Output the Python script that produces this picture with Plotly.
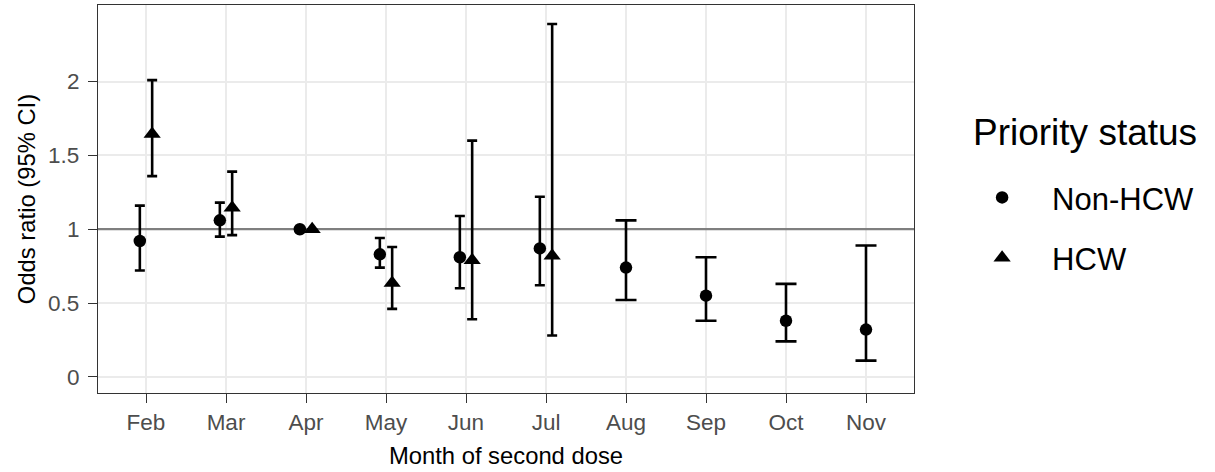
import plotly.graph_objects as go

# Month of second dose (reference month: Apr)
months = ["Feb", "Mar", "Apr", "May", "Jun", "Jul", "Aug", "Sep", "Oct", "Nov"]

# Non-HCW odds ratios and 95% CI
nonhcw_or = [0.92, 1.06, 1.00, 0.83, 0.81, 0.87, 0.74, 0.55, 0.38, 0.32]
nonhcw_lo = [0.72, 0.95, None, 0.74, 0.60, 0.62, 0.52, 0.38, 0.24, 0.11]
nonhcw_hi = [1.16, 1.18, None, 0.94, 1.09, 1.22, 1.06, 0.81, 0.63, 0.89]

# HCW odds ratios and 95% CI (Feb-Jul only)
hcw_months = ["Feb", "Mar", "Apr", "May", "Jun", "Jul"]
hcw_or = [1.645, 1.145, 1.00, 0.635, 0.79, 0.82]
hcw_lo = [1.36, 0.96, None, 0.46, 0.39, 0.28]
hcw_hi = [2.01, 1.39, None, 0.88, 1.60, 2.39]

y_ticks = [0, 0.5, 1, 1.5, 2]
y_tick_text = ["0", "0.5", "1", "1.5", "2"]
REF_ODDS = 1.0

X_RANGE = [0.4, len(months) + 0.6]
DODGE = 0.077
FONT = "Arial, Liberation Sans, sans-serif"

fig = go.Figure()

# horizontal reference line at OR = 1, drawn first so the markers sit on top
fig.add_trace(go.Scatter(
    x=X_RANGE, y=[REF_ODDS, REF_ODDS], mode="lines",
    line=dict(color="#7F7F7F", width=2.2), showlegend=False, hoverinfo="skip",
))


def add_series(name, cats, ors, los, his, symbol, size, offset_sign, legend_rank):
    # months shared by both groups are dodged and get narrower caps
    shared = set(hcw_months)
    groups = {True: ([], [], [], []), False: ([], [], [], [])}
    for c, o, lo, hi in zip(cats, ors, los, his):
        g = groups[c in shared]
        pos = months.index(c) + 1
        g[0].append(pos + (offset_sign * DODGE if c in shared else 0))
        g[1].append(o)
        g[2].append(None if hi is None else hi - o)
        g[3].append(None if lo is None else o - lo)
    first = True
    for is_shared, (xs, ys, up, dn) in groups.items():
        if not xs:
            continue
        fig.add_trace(go.Scatter(
            x=xs, y=ys, mode="markers", name=name,
            legendgroup=name, legendrank=legend_rank, showlegend=first,
            marker=dict(symbol=symbol, size=size, color="black", line=dict(width=0)),
            error_y=dict(type="data", symmetric=False, array=up, arrayminus=dn,
                         color="black", thickness=2.6,
                         width=5 if is_shared else 10.5),
        ))
        first = False


add_series("Non-HCW", months, nonhcw_or, nonhcw_lo, nonhcw_hi, "circle", 12.5, -1, 1)
add_series("HCW", hcw_months, hcw_or, hcw_lo, hcw_hi, "triangle-up", 15, 1, 2)

axis_common = dict(
    showgrid=True, gridcolor="#EBEBEB", gridwidth=1.6,
    zeroline=False, showline=True, linecolor="#333333", linewidth=1.2, mirror=True,
    ticks="outside", ticklen=9, tickwidth=1.2, tickcolor="#333333",
    tickfont=dict(family=FONT, size=22.5, color="#4D4D4D"),
)

# legend title set as a free annotation so the gap to the keys can be controlled
fig.add_annotation(
    text="Priority status", xref="paper", yref="paper", x=1.0695, y=0.6705,
    xanchor="left", yanchor="middle", showarrow=False,
    font=dict(family=FONT, size=37, color="black"),
)

fig.update_layout(
    width=1215, height=472,
    margin=dict(l=98.3, r=300.7, t=5, b=78.5),
    plot_bgcolor="white", paper_bgcolor="white",
    font=dict(family=FONT, color="black"),
    xaxis=dict(range=X_RANGE, tickvals=list(range(1, len(months) + 1)), ticktext=months,
               title=dict(text="Month of second dose", font=dict(family=FONT, size=23.8), standoff=13),
               **axis_common),
    yaxis=dict(range=[-0.1096, 2.519], tickvals=y_ticks, ticktext=y_tick_text,
               ticklabelstandoff=4,
               title=dict(text="Odds ratio (95% CI)", font=dict(family=FONT, size=23.8), standoff=5),
               **axis_common),
    legend=dict(
        font=dict(family=FONT, size=31, color="black"),
        x=1.0467, xanchor="left", y=0.5727, yanchor="top",
        tracegroupgap=17, itemwidth=90, bgcolor="rgba(0,0,0,0)",
    ),
    showlegend=True,
)

fig.write_html("out.html")
